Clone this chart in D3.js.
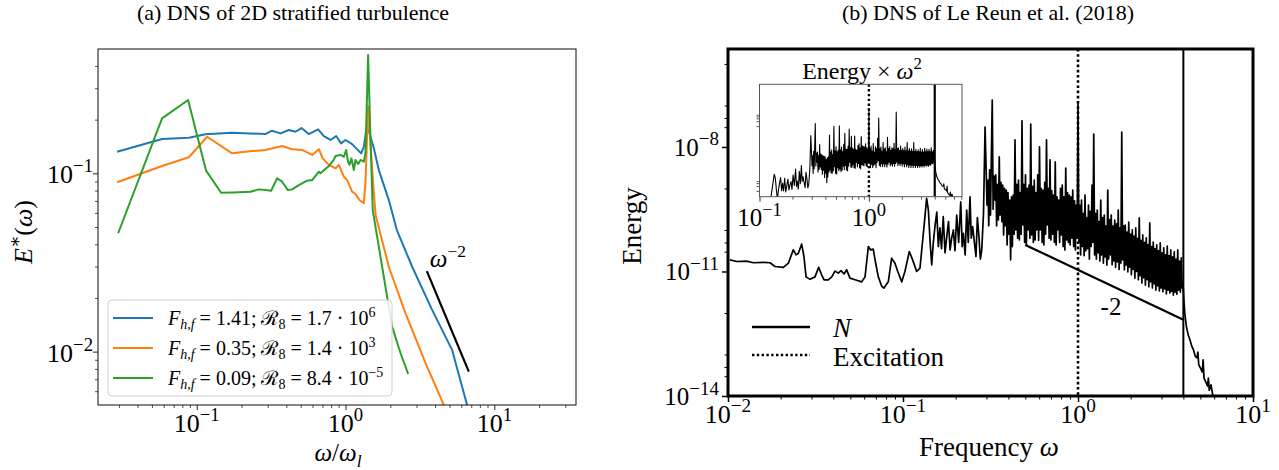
<!DOCTYPE html>
<html>
<head>
<meta charset="utf-8">
<script src="https://cdn.jsdelivr.net/npm/d3@7"></script>
<style>
  html, body { margin: 0; padding: 0; background: #fff; }
  svg text { font-family: "Liberation Serif", "DejaVu Serif", serif; fill: #000; }
</style>
</head>
<body>
<svg id="fig" width="1279" height="470"></svg>
<script>
// ---------------- Panel (a): 2D stratified turbulence spectra ----------------
// Each point is [log10(ω/ωl), log10 E*(ω)]
const runHigh = [[-1.535,-0.879],[-1.233,-0.808],[-1.053,-0.800],[-0.941,-0.781],[-0.764,-0.772],[-0.538,-0.780],[-0.495,-0.761],[-0.437,-0.776],[-0.381,-0.757],[-0.336,-0.767],[-0.296,-0.746],[-0.247,-0.780],[-0.184,-0.753],[-0.146,-0.791],[-0.101,-0.813],[-0.063,-0.791],[-0.030,-0.832],[0.000,-0.813],[0.044,-0.836],[0.105,-0.888],[0.123,-0.851],[0.145,-0.729],[0.190,-0.858],[0.224,-0.982],[0.291,-1.150],[0.345,-1.318],[0.448,-1.524],[0.582,-1.766],[0.716,-1.990],[0.817,-2.300]];
const runMid = [[-1.535,-1.050],[-1.233,-0.959],[-1.053,-0.910],[-0.930,-0.795],[-0.762,-0.888],[-0.628,-0.875],[-0.538,-0.869],[-0.426,-0.847],[-0.359,-0.865],[-0.292,-0.869],[-0.224,-0.897],[-0.179,-0.865],[-0.153,-0.916],[-0.112,-0.953],[-0.067,-0.972],[-0.045,-0.953],[-0.011,-1.019],[0.011,-1.038],[0.044,-1.103],[0.067,-1.116],[0.094,-1.150],[0.123,-1.168],[0.134,-1.054],[0.152,-0.627],[0.179,-0.981],[0.202,-1.234],[0.291,-1.524],[0.403,-1.785],[0.538,-2.065],[0.661,-2.300]];
const runLow = [[-1.528,-1.336],[-1.233,-0.692],[-1.058,-0.589],[-0.937,-0.985],[-0.836,-1.109],[-0.762,-1.107],[-0.638,-1.103],[-0.583,-1.090],[-0.538,-1.094],[-0.500,-1.098],[-0.460,-1.028],[-0.426,-1.047],[-0.388,-1.094],[-0.359,-1.090],[-0.314,-1.066],[-0.258,-1.041],[-0.224,-1.038],[-0.179,-0.991],[-0.168,-1.000],[-0.112,-0.959],[-0.079,-0.925],[-0.067,-0.903],[-0.034,-0.897],[-0.011,-0.907],[0.004,-0.869],[0.017,-0.935],[0.027,-0.953],[0.040,-0.916],[0.056,-0.982],[0.067,-0.925],[0.085,-0.948],[0.101,-0.925],[0.123,-0.935],[0.134,-0.888],[0.152,-0.337],[0.168,-0.813],[0.183,-1.206],[0.246,-1.524],[0.313,-1.860],[0.370,-2.009],[0.421,-2.125]];
const runFroude = ["1.41", "0.35", "0.09"];
const runBuoyMantissa = ["1.7", "1.4", "8.4"];
const runBuoyExponent = ["6", "3", "−5"];
const runColors = ["#1f77b4", "#ff7f0e", "#2ca02c"];
// ω^-2 reference segment
const slopeAOmega = [3.52, 6.74];
const slopeAEnergy = [0.0283, 0.00772];
const axisAXExp = [-1, 0, 1];
const axisAYExp = [-1, -2];

// ---------------- Panel (b): Le Reun et al. (2018) energy spectrum ----------------
// Each point is [log10 ω, log10 Energy]
const spectrumLow = [
  [-1.989,-10.72],[-1.950,-10.76],[-1.893,-10.75],[-1.855,-10.79],[-1.798,-10.78],[-1.760,-10.79],[-1.731,-10.88],[-1.684,-10.90],
  [-1.655,-10.80],[-1.627,-10.48],[-1.611,-10.60],[-1.598,-10.56],[-1.579,-10.34],[-1.566,-10.64],[-1.554,-11.13],[-1.531,-11.19],
  [-1.503,-11.13],[-1.482,-10.90],[-1.465,-11.08],[-1.451,-11.20],[-1.427,-11.20],[-1.407,-11.13],[-1.389,-10.99],[-1.370,-11.04],
  [-1.354,-10.98],[-1.337,-11.06],[-1.322,-10.96],[-1.303,-11.16],[-1.274,-11.20],[-1.236,-11.25],[-1.217,-11.13],[-1.198,-10.40],
  [-1.185,-10.48],[-1.170,-10.46],[-1.158,-10.76],[-1.141,-11.13],[-1.122,-11.35],[-1.109,-11.40],[-1.084,-11.25],[-1.065,-10.68],
  [-1.046,-10.80],[-1.030,-11.00],[-1.007,-11.25],[-0.989,-11.00],[-0.964,-10.52],[-0.945,-10.72],[-0.922,-11.00],[-0.903,-10.92],
  [-0.880,-9.92],[-0.865,-9.24],[-0.855,-9.52],[-0.845,-10.30],[-0.836,-10.84],[-0.827,-10.31],[-0.817,-9.90],[-0.807,-9.57],
  [-0.798,-10.40],[-0.789,-9.95],[-0.780,-10.45],[-0.770,-9.68],[-0.760,-10.55],[-0.750,-10.16],[-0.740,-9.80],[-0.731,-10.48],
  [-0.722,-10.20],[-0.712,-10.00],[-0.703,-10.50],[-0.693,-9.64],[-0.682,-10.30],[-0.670,-9.32],[-0.662,-10.40],[-0.655,-10.08],
  [-0.645,-10.60],[-0.636,-9.52],[-0.627,-10.30],[-0.617,-9.20],[-0.610,-10.20],[-0.602,-9.92],[-0.592,-10.30],[-0.583,-10.64],
  [-0.575,-9.70],[-0.566,-10.16],[-0.558,-10.70],[-0.550,-10.48],[-0.540,-9.60],[-0.531,-7.52]
];
const spectrumBand = [
  [-0.520,-9.40],[-0.515,-8.80],[-0.510,-9.90],[-0.505,-8.55],[-0.500,-9.64],[-0.495,-8.20],[-0.490,-6.87],[-0.485,-9.50],
  [-0.480,-8.70],[-0.475,-9.28],[-0.470,-8.67],[-0.465,-9.90],[-0.460,-8.90],[-0.455,-9.76],[-0.450,-8.24],[-0.445,-9.64],
  [-0.440,-8.85],[-0.435,-9.80],[-0.430,-8.92],[-0.425,-10.12],[-0.420,-9.00],[-0.415,-9.90],[-0.410,-9.04],[-0.405,-10.36],
  [-0.400,-9.10],[-0.395,-10.10],[-0.390,-9.28],[-0.385,-10.72],[-0.380,-9.20],[-0.375,-10.40],[-0.370,-9.16],[-0.365,-10.10],
  [-0.360,-7.83],[-0.355,-10.00],[-0.350,-8.90],[-0.345,-10.20],[-0.340,-8.80],[-0.335,-10.24],[-0.330,-9.10],[-0.325,-10.10],
  [-0.320,-7.37],[-0.315,-9.88],[-0.310,-8.90],[-0.305,-10.30],[-0.300,-8.67],[-0.295,-10.36],[-0.290,-9.00],[-0.285,-10.00],
  [-0.280,-8.92],[-0.275,-10.20],[-0.270,-7.45],[-0.265,-10.12],[-0.260,-8.95],[-0.255,-10.30],[-0.250,-8.80],[-0.245,-10.24],
  [-0.240,-9.10],[-0.235,-10.00],[-0.230,-8.67],[-0.225,-10.25],[-0.220,-8.00],[-0.215,-10.00],[-0.210,-9.00],[-0.205,-10.30],
  [-0.200,-9.04],[-0.195,-10.36],[-0.190,-8.85],[-0.185,-10.10],[-0.180,-7.83],[-0.175,-9.88],[-0.170,-9.00],[-0.165,-10.20],
  [-0.160,-8.31],[-0.155,-10.24],[-0.150,-9.05],[-0.145,-10.10],[-0.140,-9.16],[-0.135,-10.30],[-0.130,-8.36],[-0.125,-10.36],
  [-0.120,-9.20],[-0.115,-10.00],[-0.110,-9.28],[-0.105,-10.30],[-0.100,-9.00],[-0.095,-10.12],[-0.090,-8.92],[-0.085,-10.40],
  [-0.080,-9.20],[-0.075,-10.48],[-0.070,-8.51],[-0.065,-10.24],[-0.060,-9.10],[-0.055,-10.30],[-0.050,-9.16],[-0.045,-10.36],
  [-0.040,-9.20],[-0.035,-10.20],[-0.030,-9.04],[-0.025,-10.40],[-0.020,-9.30],[-0.015,-10.48],[-0.010,-9.40],[-0.005,-10.20],
  [0.000,-6.94],[0.005,-10.30],[0.010,-9.40],[0.015,-10.60],[0.020,-9.28],[0.025,-10.40],[0.030,-9.60],[0.035,-10.62],
  [0.040,-9.16],[0.045,-10.50],[0.050,-9.70],[0.055,-10.45],[0.060,-9.40],[0.065,-10.70],[0.070,-9.55],[0.075,-10.40],
  [0.080,-8.92],[0.085,-10.30],[0.090,-7.69],[0.095,-10.60],[0.100,-9.60],[0.105,-10.70],[0.110,-9.52],[0.115,-10.55],
  [0.120,-9.80],[0.125,-10.75],[0.130,-9.28],[0.135,-10.60],[0.140,-9.70],[0.145,-10.80],[0.150,-9.64],[0.155,-10.65],
  [0.160,-9.90],[0.165,-10.85],[0.170,-9.04],[0.175,-10.70],[0.180,-9.75],[0.185,-10.60],[0.190,-9.64],[0.195,-10.84],
  [0.200,-9.90],[0.205,-10.75],[0.210,-9.76],[0.215,-10.90],[0.220,-9.85],[0.225,-10.77],[0.230,-9.52],[0.235,-10.95],
  [0.240,-9.95],[0.245,-10.80],[0.250,-7.64],[0.255,-10.72],[0.260,-9.90],[0.265,-10.96],[0.270,-9.88],[0.275,-10.85],
  [0.280,-10.05],[0.285,-11.01],[0.290,-9.81],[0.295,-10.90],[0.300,-10.10],[0.305,-11.08],[0.310,-10.00],[0.315,-10.95],
  [0.320,-10.15],[0.325,-11.16],[0.330,-9.95],[0.335,-11.00],[0.340,-10.20],[0.345,-11.20],[0.350,-9.71],[0.355,-11.10],
  [0.360,-10.25],[0.365,-11.28],[0.370,-10.12],[0.375,-11.15],[0.380,-10.30],[0.385,-11.33],[0.390,-10.19],[0.395,-11.20],
  [0.400,-10.35],[0.405,-11.37],[0.410,-9.83],[0.415,-11.25],[0.420,-10.40],[0.425,-11.40],[0.430,-10.29],[0.435,-11.30],
  [0.440,-10.45],[0.445,-11.45],[0.450,-10.36],[0.455,-11.35],[0.460,-10.50],[0.465,-11.47],[0.470,-10.31],[0.475,-11.40],
  [0.480,-10.55],[0.485,-11.49],[0.490,-10.43],[0.495,-11.42],[0.500,-10.60],[0.505,-11.54],[0.510,-10.39],[0.515,-11.45],
  [0.520,-10.62],[0.525,-11.52],[0.530,-10.48],[0.535,-11.48],[0.540,-10.65],[0.545,-11.57],[0.550,-10.53],[0.555,-11.50],
  [0.560,-10.70],[0.565,-11.55],[0.570,-10.48],[0.575,-11.45],[0.580,-10.75],[0.585,-11.50],[0.590,-10.67],[0.595,-11.40],
  [0.600,-11.28]
];
const spectrumTail = [
  [0.605,-11.69],[0.61,-12.00],[0.62,-12.34],[0.63,-12.53],[0.64,-12.65],[0.65,-12.80],[0.66,-12.89],[0.67,-13.04],
  [0.68,-13.08],[0.685,-12.94],[0.69,-13.25],[0.70,-13.33],[0.71,-13.42],[0.715,-13.13],[0.72,-13.57],[0.73,-13.66],
  [0.74,-13.76],[0.745,-13.57],[0.75,-13.86],[0.76,-13.73],[0.77,-13.98],[0.78,-14.10],[0.80,-14.34]
];
const buoyancyFreq = 4;      // N
const excitationFreq = 1;    // forcing frequency
const slopeBOmega = [0.5, 4];
const slopeBEnergy = [4.37e-11, 6.83e-13];
const axisBXExp = [-2, -1, 0, 1];
const axisBYExp = [-8, -11, -14];
const insetXExp = [-1, 0];

const spectrum = spectrumLow.concat(spectrumBand, spectrumTail);

// ---------------- helpers ----------------
const svg = d3.select("#fig");
const defs = svg.append("defs");

// Text with italic / superscript / subscript runs: parts = [[text, flags]]
function rich(sel, parts, size, scriptRatio = 0.7) {
  let shift = 0;
  parts.forEach(([t, f]) => {
    let target = 0, fs = size;
    if (f.includes("^")) { target = -0.42 * size; fs = scriptRatio * size; }
    if (f.includes("_")) { target = 0.22 * size; fs = scriptRatio * size; }
    const ts = sel.append("tspan").text(t).attr("font-size", fs);
    if (target - shift !== 0) ts.attr("dy", target - shift);
    if (f.includes("i")) ts.attr("font-style", "italic");
    shift = target;
  });
  return sel;
}
function pow10(e) { return [["10", ""], [String(e).replace("-", "−"), "^"]]; }

function tickAxis(g, axis, values, size, color, width) {
  g.call(axis.tickValues(values).tickSize(size).tickSizeOuter(0).tickFormat(() => ""));
  g.select(".domain").remove();
  g.selectAll(".tick line").attr("stroke", color).attr("stroke-width", width);
  g.selectAll(".tick text").remove();
}
function minorLog(lo, hi, subs) {
  const out = [];
  for (let e = lo; e <= hi; e++) subs.forEach(s => out.push(s * Math.pow(10, e)));
  return out;
}
function clip(id, x, y, w, h) {
  defs.append("clipPath").attr("id", id).append("rect")
    .attr("x", x).attr("y", y).attr("width", w).attr("height", h);
}

// ---------------- Panel (a) ----------------
const A = { l: 98, r: 576, t: 49, b: 405 };
const xA = d3.scaleLog().domain([0.0217, 35.4]).range([A.l, A.r]);
const yA = d3.scaleLog().domain([0.00502, 0.498]).range([A.b, A.t]);
clip("clipA", A.l, A.t, A.r - A.l, A.b - A.t);

const gA = svg.append("g");
const lineA = d3.line().x(d => xA(Math.pow(10, d[0]))).y(d => yA(Math.pow(10, d[1])));
const runs = [runHigh, runMid, runLow];
gA.append("g").attr("clip-path", "url(#clipA)")
  .selectAll("path").data(runs).join("path")
  .attr("d", lineA).attr("fill", "none")
  .attr("stroke", (d, i) => runColors[i]).attr("stroke-width", 2)
  .attr("stroke-linejoin", "round");

gA.append("line")
  .attr("x1", xA(slopeAOmega[0])).attr("y1", yA(slopeAEnergy[0]))
  .attr("x2", xA(slopeAOmega[1])).attr("y2", yA(slopeAEnergy[1]))
  .attr("stroke", "#000").attr("stroke-width", 2.2);
rich(gA.append("text").attr("x", xA(slopeAOmega[0]) + 3).attr("y", 267),
  [["ω", "i"], ["−2", "^"]], 25);

// ticks
tickAxis(gA.append("g").attr("transform", `translate(0,${A.b})`), d3.axisBottom(xA),
  axisAXExp.map(e => Math.pow(10, e)), 5, "#222", 1);
tickAxis(gA.append("g").attr("transform", `translate(0,${A.b})`), d3.axisBottom(xA),
  minorLog(-2, 1, [2,3,4,5,6,7,8,9]).filter(v => v > 0.0217 && v < 35.4), 3, "#222", 0.8);
tickAxis(gA.append("g").attr("transform", `translate(${A.l},0)`), d3.axisLeft(yA),
  axisAYExp.map(e => Math.pow(10, e)), 5, "#222", 1);
tickAxis(gA.append("g").attr("transform", `translate(${A.l},0)`), d3.axisLeft(yA),
  minorLog(-3, -1, [2,3,4,5,6,7,8,9]).filter(v => v > 0.00502 && v < 0.498), 3, "#222", 0.8);

axisAXExp.forEach(e => rich(gA.append("text").attr("x", xA(Math.pow(10, e))).attr("y", 432)
  .attr("text-anchor", "middle"), pow10(e), 26, 0.72));
axisAYExp.forEach(e => rich(gA.append("text").attr("x", 93).attr("y", yA(Math.pow(10, e)) + 10)
  .attr("text-anchor", "end"), pow10(e), 26, 0.72));

gA.append("rect").attr("x", A.l).attr("y", A.t).attr("width", A.r - A.l).attr("height", A.b - A.t)
  .attr("fill", "none").attr("stroke", "#222").attr("stroke-width", 1.1);

// legend
const legA = gA.append("g");
legA.append("rect").attr("x", 108).attr("y", 300).attr("width", 284).attr("height", 96)
  .attr("rx", 4).attr("fill", "#fff").attr("fill-opacity", 0.85)
  .attr("stroke", "#d0d0d0").attr("stroke-width", 1);
runFroude.forEach((fr, i) => {
  const y = 318 + i * 30;
  legA.append("line").attr("x1", 113).attr("x2", 153).attr("y1", y).attr("y2", y)
    .attr("stroke", runColors[i]).attr("stroke-width", 2);
  rich(legA.append("text").attr("x", 168).attr("y", y + 7), [
    ["F", "i"], ["h,f", "i_"], [" = " + fr + "; ", ""], ["ℛ", ""], ["8", "_"],
    [" = " + runBuoyMantissa[i] + " · 10", ""], [runBuoyExponent[i], "^"]
  ], 20);
});

// titles / axis labels
svg.append("text").attr("x", 293).attr("y", 20).attr("text-anchor", "middle")
  .attr("font-size", 22).text("(a) DNS of 2D stratified turbulence");
rich(svg.append("text").attr("x", 338).attr("y", 461).attr("text-anchor", "middle"),
  [["ω", "i"], ["/", ""], ["ω", "i"], ["l", "i_"]], 25);
rich(svg.append("text").attr("transform", "translate(32,232) rotate(-90)").attr("text-anchor", "middle"),
  [["E", "i"], ["∗", "^"], ["(", ""], ["ω", "i"], [")", ""]], 26);

// ---------------- Panel (b) ----------------
const B = { l: 728, r: 1253, t: 49, b: 396 };
const xB = d3.scaleLog().domain([0.01, 10]).range([B.l, B.r]);
const yB = d3.scaleLog().domain([1e-14, Math.pow(10, -5.64)]).range([B.b, B.t]);
clip("clipB", B.l, B.t, B.r - B.l, B.b - B.t);

const gB = svg.append("g");
const lineB = d3.line().x(d => xB(Math.pow(10, d[0]))).y(d => yB(Math.pow(10, d[1])));
const plotB = gB.append("g").attr("clip-path", "url(#clipB)");
plotB.append("path").datum(spectrum).attr("d", lineB).attr("fill", "none")
  .attr("stroke", "#000").attr("stroke-width", 1.7).attr("stroke-linejoin", "round");
plotB.append("line").attr("x1", xB(excitationFreq)).attr("x2", xB(excitationFreq))
  .attr("y1", B.t).attr("y2", B.b).attr("stroke", "#000").attr("stroke-width", 2.6)
  .attr("stroke-dasharray", "2.6,2.6");
plotB.append("line").attr("x1", xB(buoyancyFreq)).attr("x2", xB(buoyancyFreq))
  .attr("y1", B.t).attr("y2", B.b).attr("stroke", "#000").attr("stroke-width", 2);
plotB.append("line")
  .attr("x1", xB(slopeBOmega[0])).attr("y1", yB(slopeBEnergy[0]))
  .attr("x2", xB(slopeBOmega[1])).attr("y2", yB(slopeBEnergy[1]))
  .attr("stroke", "#000").attr("stroke-width", 2.2);
gB.append("text").attr("x", 1111).attr("y", 315).attr("text-anchor", "middle")
  .attr("font-size", 25).text("-2");

// ticks
tickAxis(gB.append("g").attr("transform", `translate(0,${B.b})`), d3.axisBottom(xB),
  axisBXExp.map(e => Math.pow(10, e)), 6, "#000", 1.5);
tickAxis(gB.append("g").attr("transform", `translate(0,${B.b})`), d3.axisBottom(xB),
  minorLog(-2, 0, [2,3,4,5,6,7,8,9]), 3.5, "#000", 1);
tickAxis(gB.append("g").attr("transform", `translate(${B.l},0)`), d3.axisLeft(yB),
  axisBYExp.map(e => Math.pow(10, e)), 6, "#000", 1.5);
tickAxis(gB.append("g").attr("transform", `translate(${B.l},0)`), d3.axisLeft(yB),
  [-6, -7, -9, -10, -12, -13].map(e => Math.pow(10, e)).concat([3e-8, 5e-8, 3e-11, 5e-11, 3e-14, 5e-14]), 3.5, "#000", 1);

axisBXExp.forEach(e => rich(gB.append("text").attr("x", xB(Math.pow(10, e))).attr("y", 423)
  .attr("text-anchor", "middle"), pow10(e), 26, 0.74));
axisBYExp.forEach(e => rich(gB.append("text").attr("x", 719).attr("y", yB(Math.pow(10, e)) + 9)
  .attr("text-anchor", "end"), pow10(e), 25, 0.76));

gB.append("rect").attr("x", B.l).attr("y", B.t).attr("width", B.r - B.l).attr("height", B.b - B.t)
  .attr("fill", "none").attr("stroke", "#000").attr("stroke-width", 3);

// legend (b)
gB.append("line").attr("x1", 752).attr("x2", 810).attr("y1", 327).attr("y2", 327)
  .attr("stroke", "#000").attr("stroke-width", 2.4);
gB.append("line").attr("x1", 752).attr("x2", 810).attr("y1", 355).attr("y2", 355)
  .attr("stroke", "#000").attr("stroke-width", 2.4).attr("stroke-dasharray", "2.4,2.4");
gB.append("text").attr("x", 833).attr("y", 337).attr("font-size", 27)
  .attr("font-style", "italic").text("N");
gB.append("text").attr("x", 833).attr("y", 366).attr("font-size", 27).text("Excitation");

// titles / axis labels
svg.append("text").attr("x", 988).attr("y", 20).attr("text-anchor", "middle")
  .attr("font-size", 22).text("(b) DNS of Le Reun et al. (2018)");
rich(svg.append("text").attr("x", 989).attr("y", 456).attr("text-anchor", "middle"),
  [["Frequency ", ""], ["ω", "i"]], 27);
svg.append("text").attr("transform", "translate(641,226) rotate(-90)").attr("text-anchor", "middle")
  .attr("font-size", 27).text("Energy");

// ---------------- Inset: Energy × ω² ----------------
const I = { l: 759.5, r: 962, t: 84.3, b: 196.7 };
const xI = d3.scaleLog().domain([0.1, 7.1]).range([I.l, I.r]);
const yI = d3.scaleLog().domain([Math.pow(10, -12.36), Math.pow(10, -5.42)]).range([I.b, I.t]);
clip("clipI", I.l, I.t, I.r - I.l, I.b - I.t);
const gI = svg.append("g");
gI.append("rect").attr("x", I.l).attr("y", I.t).attr("width", I.r - I.l).attr("height", I.b - I.t)
  .attr("fill", "#fff");
const plotI = gI.append("g").attr("clip-path", "url(#clipI)");
const compensated = spectrum.map(([lw, le]) => [lw, le + 2 * lw]);   // log10(E ω²)
plotI.append("path").datum(compensated)
  .attr("d", d3.line().x(d => xI(Math.pow(10, d[0]))).y(d => yI(Math.pow(10, d[1]))))
  .attr("fill", "none").attr("stroke", "#000").attr("stroke-width", 1.1).attr("stroke-linejoin", "round");
plotI.append("line").attr("x1", xI(excitationFreq)).attr("x2", xI(excitationFreq))
  .attr("y1", I.t).attr("y2", I.b).attr("stroke", "#000").attr("stroke-width", 2.4)
  .attr("stroke-dasharray", "2.4,2.4");
plotI.append("line").attr("x1", xI(buoyancyFreq)).attr("x2", xI(buoyancyFreq))
  .attr("y1", I.t).attr("y2", I.b).attr("stroke", "#000").attr("stroke-width", 2.2);

tickAxis(gI.append("g").attr("transform", `translate(0,${I.b})`), d3.axisBottom(xI),
  insetXExp.map(e => Math.pow(10, e)), 5, "#333", 1);
tickAxis(gI.append("g").attr("transform", `translate(0,${I.b})`), d3.axisBottom(xI),
  minorLog(-1, 0, [2,3,4,5,6,7,8,9]).filter(v => v < 7.1), 3, "#333", 0.8);
tickAxis(gI.append("g").attr("transform", `translate(${I.l},0)`), d3.axisLeft(yI),
  [1e-12, 2e-12, 3e-12, 4e-12, 1e-8, 2e-8, 3e-8, 4e-8, 5e-8], 3, "#333", 0.8);
insetXExp.forEach(e => rich(gI.append("text").attr("x", xI(Math.pow(10, e))).attr("y", 226)
  .attr("text-anchor", "middle"), pow10(e), 25, 0.74));
gI.append("rect").attr("x", I.l).attr("y", I.t).attr("width", I.r - I.l).attr("height", I.b - I.t)
  .attr("fill", "none").attr("stroke", "#555").attr("stroke-width", 1);
rich(gI.append("text").attr("x", 862).attr("y", 79).attr("text-anchor", "middle"),
  [["Energy × ", ""], ["ω", "i"], ["2", "^"]], 24);
</script>
</body>
</html>
